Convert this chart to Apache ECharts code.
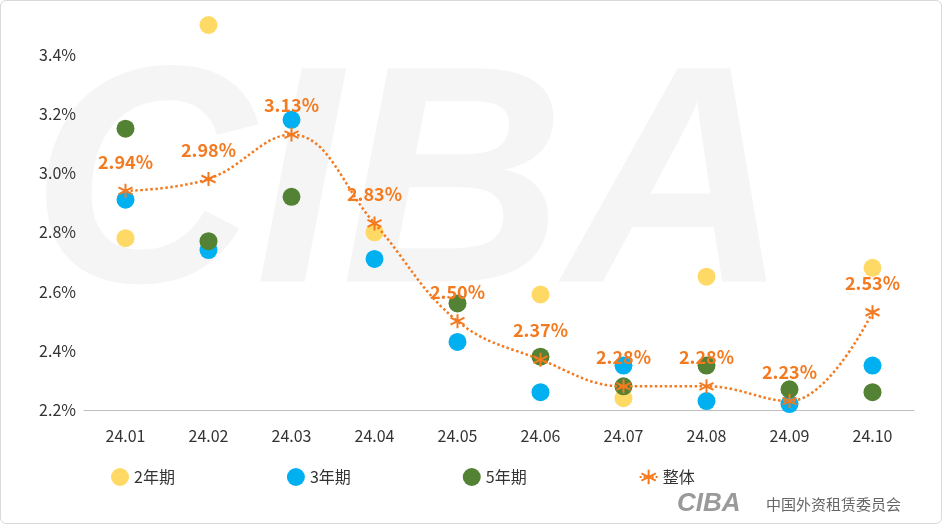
<!DOCTYPE html><html><head><meta charset="utf-8">
<script src="https://cdn.jsdelivr.net/npm/echarts@6/dist/echarts.min.js"></script>
<style>html,body{margin:0;padding:0;background:#fff}#c{width:940px;height:522px;border:1px solid #d9d9d9;border-radius:6px}</style></head><body><div id="c"></div><script>
const categories=['24.01','24.02','24.03','24.04','24.05','24.06','24.07','24.08','24.09','24.10'];
const y2=[2.78,3.50,null,2.80,null,2.59,2.24,2.65,null,2.68];
const y3=[2.91,2.74,3.18,2.71,2.43,2.26,2.35,2.23,2.22,2.35];
const y5=[3.15,2.77,2.92,null,2.56,2.38,2.28,2.35,2.27,2.26];
const overall=[2.94,2.98,3.13,2.83,2.50,2.37,2.28,2.28,2.23,2.53];
const star='path://M0,-10L0,10M-9,-5L9,5M-9,5L9,-5';
const F='"Noto Sans CJK SC"';
const c=echarts.init(document.getElementById('c'));
const sc=(n,d,col)=>({name:n,type:'scatter',data:d,symbolSize:18,itemStyle:{color:col,opacity:1},z:3});
c.setOption({
 animation:false,
 textStyle:{fontFamily:F},
 graphic:[{type:'text',left:30,top:40,z:0,style:{text:'CIBA',font:'italic bold 310px Arial',fill:'rgba(0,0,0,0.04)'}},
  {type:'text',left:676,top:490,style:{text:'CIBA',font:'italic bold 26px Arial',fill:'#9a9a9a'}},
  {type:'text',left:765,top:496,style:{text:'中国外资租赁委员会',font:'15px "Noto Sans CJK SC"',fill:'#666'}}],
 grid:{left:83,right:27,top:24,bottom:113},
 legend:{bottom:32,left:105,itemGap:112,textStyle:{fontSize:16,color:'#333',fontFamily:F},
  data:[{name:'2年期',icon:'circle'},{name:'3年期',icon:'circle'},{name:'5年期',icon:'circle'},{name:'整体'}],itemWidth:18,itemHeight:18},
 xAxis:{type:'category',data:categories,axisTick:{show:false},axisLine:{lineStyle:{color:'#bfbfbf'}},axisLabel:{fontSize:16,color:'#333',margin:18,fontFamily:F}},
 yAxis:{type:'value',min:2.2,max:3.5,interval:0.2,splitLine:{show:false},axisLabel:{fontSize:16,color:'#333',fontFamily:F,formatter:v=>v.toFixed(1)+'%',showMaxLabel:false}},
 series:[sc('2年期',y2,'#FFD966'),sc('3年期',y3,'#00B0F0'),sc('5年期',y5,'#548235'),
  {name:'整体',type:'line',data:overall,smooth:0.4,symbol:star,symbolSize:14,z:4,
   lineStyle:{color:'#F47A20',width:2.5,type:'dotted'},itemStyle:{color:'#F47A20',borderColor:'#F47A20',borderWidth:2},
   label:{show:true,position:'top',distance:12,fontSize:18,fontWeight:'bold',color:'#F47A20',fontFamily:F,formatter:p=>p.value.toFixed(2)+'%'}}]
});
</script></body></html>
